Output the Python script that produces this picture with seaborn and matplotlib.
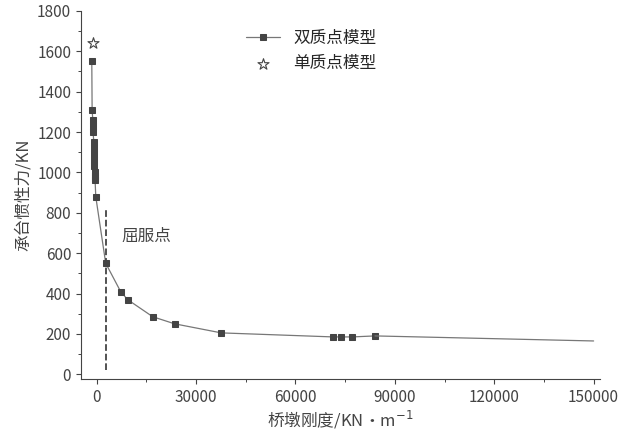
import matplotlib
matplotlib.use("Agg")
import matplotlib.pyplot as plt
import seaborn as sns
import pandas as pd
from matplotlib.ticker import MultipleLocator

sns.set_style("ticks")
plt.rcParams['font.family'] = ['Noto Sans CJK SC', 'DejaVu Sans']

stiff = [-1500, -1400, -1200, -1150, -1100, -900, -850, -800, -750, -700, -650, -600, -550, -500, -300,
         2700, 7200, 9300, 16900, 23500, 37600, 71400, 73800, 77100, 84000]
force = [1550, 1310, 1260, 1230, 1200, 1150, 1120, 1090, 1060, 1030, 1000, 980, 970, 960, 880,
         550, 410, 370, 285, 250, 205, 185, 185, 185, 190]
tail_x = [84000, 150000]
tail_y = [190, 165]
single_x = [-1000]
single_y = [1640]
yield_x = 2800

df = pd.DataFrame({"k": stiff, "f": force})
fig, ax = plt.subplots(figsize=(6.22, 4.36), dpi=100)
sns.lineplot(data=df, x="k", y="f", ax=ax, color="#777777", lw=0.9, marker="s",
             markersize=5, markerfacecolor="#444444", markeredgecolor="#444444",
             label="双质点模型", sort=False)
sns.lineplot(x=tail_x, y=tail_y, ax=ax, color="#777777", lw=0.9)
ax.scatter(single_x, single_y, marker="*", s=70, facecolor="white", edgecolor="#444444",
           linewidth=0.8, label="单质点模型", zorder=5)
ax.plot([yield_x, yield_x], [20, 820], ls="--", color="#444444", lw=1.3)
ax.text(7500, 660, "屈服点", fontsize=12, color="#444444")
ax.set_xlim(-4800, 152000)
ax.set_ylim(-25, 1800)
ax.set_xticks([0, 30000, 60000, 90000, 120000, 150000])
ax.set_yticks(range(0, 1801, 200))
ax.yaxis.set_minor_locator(MultipleLocator(100))
ax.xaxis.set_minor_locator(MultipleLocator(15000))
ax.tick_params(labelsize=11, colors="#444444")
ax.set_xlabel("桥墩刚度/KN·m$^{-1}$", fontsize=12, color="#444444", labelpad=2)
ax.set_ylabel("承台惯性力/KN", fontsize=12, color="#444444")
for s in ["left", "bottom"]:
    ax.spines[s].set_color("#444444")
sns.despine(ax=ax)
ax.legend(loc="upper left", bbox_to_anchor=(0.29, 0.99), frameon=False, fontsize=12)
fig.subplots_adjust(left=0.13, right=0.965, top=0.975, bottom=0.13)
fig.savefig("out.png", dpi=100)
